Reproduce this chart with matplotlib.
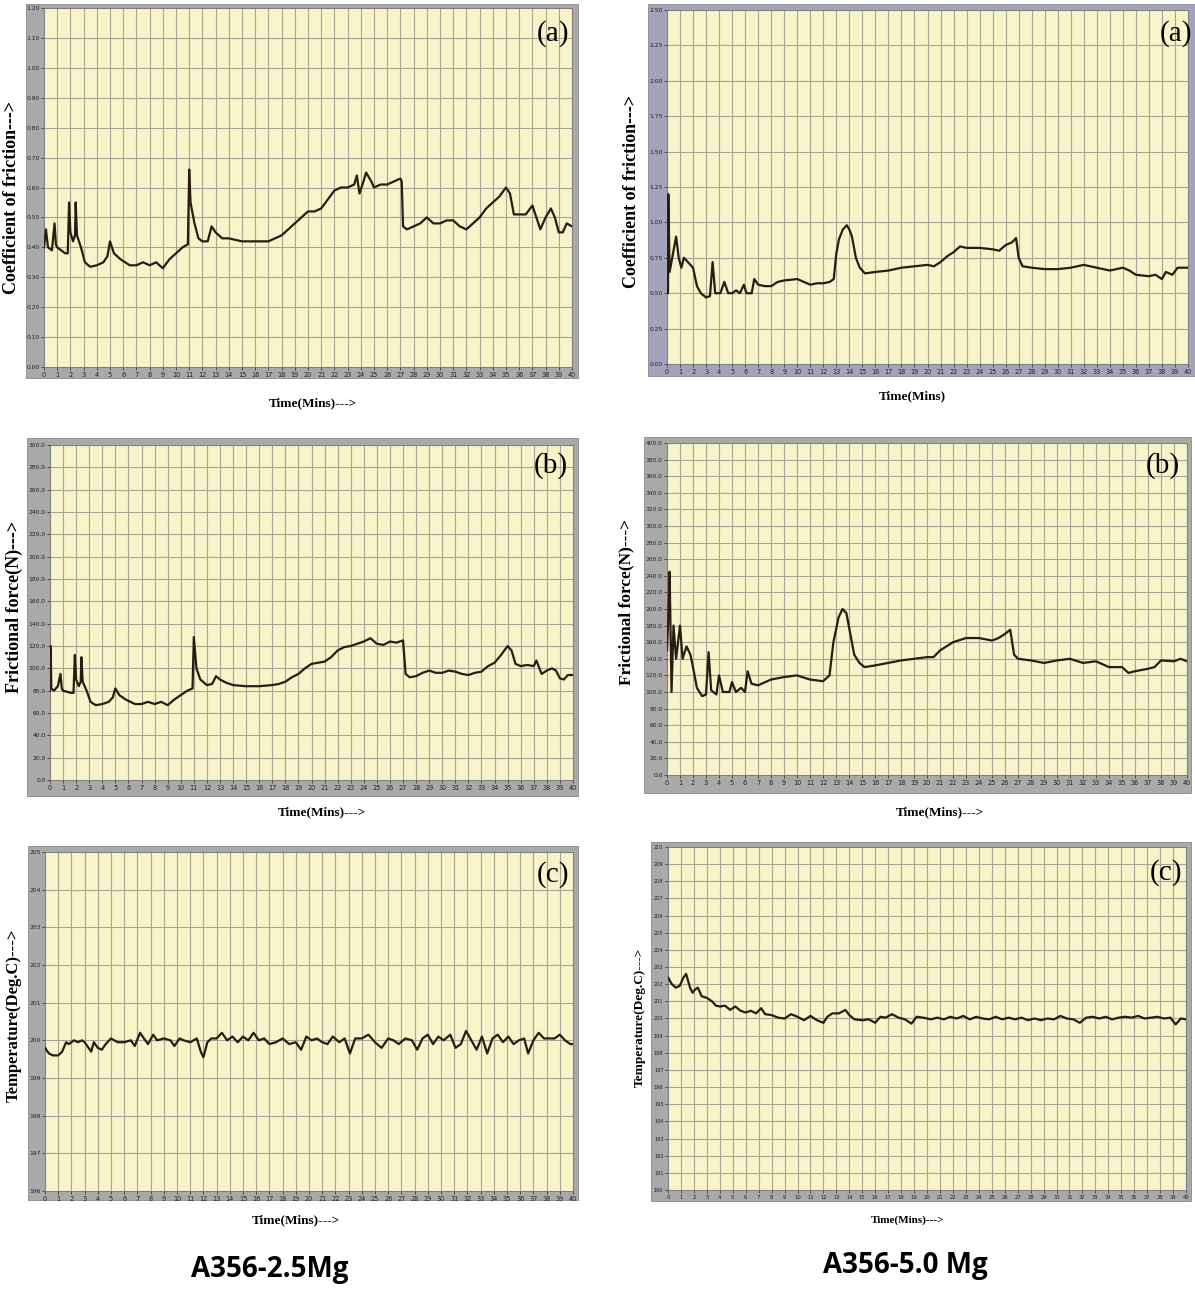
import matplotlib
matplotlib.use("Agg")
import matplotlib.pyplot as plt
from matplotlib.patches import Rectangle
from matplotlib.ticker import MultipleLocator, FormatStrFormatter

# ---------------- data ----------------
# A356-2.5Mg  coefficient of friction
t_cof1 = [0, 0.15, 0.3, 0.6, 0.8, 0.9, 1.0, 1.3, 1.6, 1.8, 1.9, 2.0, 2.2, 2.35, 2.4, 2.5, 2.8, 3.1, 3.5,
          4.0, 4.5, 4.8, 5.0, 5.3, 5.8, 6.5, 7.0, 7.5, 8.0, 8.5, 9.0, 9.5, 10.0, 10.5, 10.9, 11.0, 11.1,
          11.4, 11.7, 12.0, 12.4, 12.7, 13.0, 13.5, 14, 15, 16, 17, 17.5, 18, 18.5, 19, 19.5, 20, 20.5,
          21, 21.5, 22, 22.5, 23, 23.5, 23.7, 23.9, 24.2, 24.4, 24.8, 25, 25.5, 26, 26.5, 27, 27.1, 27.2,
          27.5, 28, 28.5, 29, 29.5, 30, 30.5, 31, 31.5, 32, 32.5, 33, 33.5, 34, 34.5, 35, 35.3, 35.6,
          36, 36.5, 37, 37.3, 37.6, 38, 38.4, 38.7, 39.0, 39.3, 39.6, 40]
cof1 = [0.40, 0.46, 0.40, 0.39, 0.48, 0.41, 0.40, 0.39, 0.38, 0.38, 0.55, 0.45, 0.42, 0.44, 0.55, 0.44,
        0.40, 0.35, 0.335, 0.34, 0.35, 0.37, 0.42, 0.38, 0.36, 0.34, 0.34, 0.35, 0.34, 0.35, 0.33, 0.36,
        0.38, 0.40, 0.41, 0.66, 0.55, 0.48, 0.43, 0.42, 0.42, 0.47, 0.45, 0.43, 0.43, 0.42, 0.42, 0.42,
        0.43, 0.44, 0.46, 0.48, 0.50, 0.52, 0.52, 0.53, 0.56, 0.59, 0.60, 0.60, 0.61, 0.64, 0.58, 0.62,
        0.65, 0.62, 0.60, 0.61, 0.61, 0.62, 0.63, 0.62, 0.47, 0.46, 0.47, 0.48, 0.50, 0.48, 0.48, 0.49,
        0.49, 0.47, 0.46, 0.48, 0.50, 0.53, 0.55, 0.57, 0.60, 0.58, 0.51, 0.51, 0.51, 0.54, 0.50, 0.46,
        0.50, 0.53, 0.50, 0.45, 0.45, 0.48, 0.47]

# A356-5.0Mg  coefficient of friction
t_cof2 = [0, 0.08, 0.1, 0.2, 0.5, 0.7, 0.9, 1.1, 1.3, 1.6, 2.0, 2.3, 2.6, 3.0, 3.3, 3.5, 3.7, 4.1, 4.4,
          4.7, 5.0, 5.3, 5.6, 5.9, 6.1, 6.5, 6.7, 7.0, 7.5, 8.0, 8.5, 9, 10, 10.5, 11, 11.5, 12, 12.5,
          12.8, 13.0, 13.2, 13.5, 13.8, 14.0, 14.2, 14.5, 14.8, 15.2, 16, 17, 18, 19, 20, 20.5, 21, 21.5,
          22, 22.5, 23, 24, 25, 25.5, 26, 26.5, 26.8, 27, 27.3, 28, 29, 30, 31, 32, 33, 34, 35, 35.5, 36,
          37, 37.5, 38, 38.3, 38.8, 39.2, 40]
cof2 = [0.50, 0.50, 1.20, 0.65, 0.80, 0.90, 0.75, 0.68, 0.75, 0.72, 0.68, 0.55, 0.50, 0.47, 0.48, 0.72,
        0.50, 0.50, 0.58, 0.50, 0.50, 0.52, 0.50, 0.56, 0.50, 0.50, 0.60, 0.56, 0.55, 0.55, 0.58, 0.59,
        0.60, 0.58, 0.56, 0.57, 0.57, 0.58, 0.60, 0.78, 0.88, 0.95, 0.98, 0.95, 0.90, 0.75, 0.68, 0.64,
        0.65, 0.66, 0.68, 0.69, 0.70, 0.69, 0.72, 0.76, 0.79, 0.83, 0.82, 0.82, 0.81, 0.80, 0.84, 0.86,
        0.89, 0.75, 0.69, 0.68, 0.67, 0.67, 0.68, 0.70, 0.68, 0.66, 0.68, 0.66, 0.63, 0.62, 0.63, 0.60,
        0.65, 0.63, 0.68, 0.68]

# A356-2.5Mg  frictional force (N)
t_ff1 = [0, 0.05, 0.1, 0.3, 0.6, 0.8, 0.9, 1.0, 1.3, 1.6, 1.8, 1.9, 2.0, 2.2, 2.35, 2.4, 2.5, 2.8, 3.1,
         3.5, 4.0, 4.5, 4.8, 5.0, 5.3, 5.8, 6.5, 7.0, 7.5, 8.0, 8.5, 9.0, 9.5, 10.0, 10.5, 10.9, 11.0,
         11.2, 11.5, 12.0, 12.4, 12.7, 13.0, 13.5, 14, 15, 16, 17, 17.5, 18, 18.5, 19, 19.5, 20, 20.5,
         21, 21.5, 22, 22.5, 23, 23.5, 24, 24.5, 25, 25.5, 26, 26.5, 27, 27.2, 27.5, 28, 28.5, 29, 29.5,
         30, 30.5, 31, 31.5, 32, 32.5, 33, 33.5, 34, 34.5, 35, 35.3, 35.6, 36, 36.5, 37, 37.2, 37.6, 38,
         38.4, 38.7, 39.0, 39.3, 39.6, 40]
ff1 = [80, 120, 82, 80, 84, 95, 82, 80, 79, 78, 78, 112, 90, 84, 88, 110, 88, 80, 70, 67, 68, 70, 74,
       82, 76, 72, 68, 68, 70, 68, 70, 67, 72, 76, 80, 82, 128, 100, 90, 85, 86, 93, 90, 87, 85, 84, 84,
       85, 86, 88, 92, 95, 100, 104, 105, 106, 110, 116, 119, 120, 122, 124, 127, 122, 121, 124, 123,
       125, 95, 92, 93, 96, 98, 96, 96, 98, 97, 95, 94, 96, 97, 102, 105, 112, 120, 116, 104, 102, 103,
       102, 107, 95, 98, 100, 98, 91, 90, 94, 94]

# A356-5.0Mg  frictional force (N)
t_ff2 = [0, 0.1, 0.2, 0.35, 0.5, 0.7, 1.0, 1.2, 1.5, 1.8, 2.0, 2.3, 2.7, 3.0, 3.2, 3.4, 3.8, 4.0, 4.3,
         4.8, 5.0, 5.3, 5.7, 6.0, 6.2, 6.5, 7, 8, 9, 10, 11, 12, 12.5, 12.8, 13.2, 13.5, 13.8, 14.1, 14.4,
         14.8, 15.2, 16, 17, 18, 19, 20, 20.5, 21, 22, 23, 24, 25, 25.5, 26, 26.4, 26.7, 27, 28, 29, 30,
         31, 32, 33, 34, 35, 35.5, 36, 37, 37.5, 38, 39, 39.5, 40]
ff2 = [150, 190, 245, 100, 180, 140, 180, 140, 155, 145, 130, 105, 95, 97, 148, 102, 97, 120, 100, 100,
       112, 100, 105, 100, 125, 110, 108, 115, 118, 120, 115, 113, 120, 160, 190, 200, 195, 170, 145,
       135, 130, 132, 135, 138, 140, 142, 142, 150, 160, 165, 165, 162, 165, 170, 175, 145, 140, 138,
       135, 138, 140, 135, 137, 130, 130, 123, 125, 128, 130, 138, 137, 140, 137]

# A356-2.5Mg  temperature (Deg.C)
t_tp1 = [0, 0.3, 0.6, 1.0, 1.3, 1.6, 1.8, 2.2, 2.5, 2.8, 3.0, 3.3, 3.5, 3.7, 4.0, 4.3, 4.6, 5.0, 5.5,
         6.0, 6.5, 6.8, 7.2, 7.5, 7.8, 8.2, 8.5, 9, 9.5, 9.8, 10.2, 10.5, 11, 11.5, 11.8, 12.0, 12.3,
         12.6, 13, 13.4, 13.8, 14.2, 14.6, 15, 15.4, 15.8, 16.2, 16.6, 17, 17.5, 18, 18.5, 19, 19.4,
         19.8, 20.2, 20.6, 21, 21.4, 21.8, 22.3, 22.7, 23.1, 23.5, 24, 24.5, 25, 25.5, 26, 26.4, 26.8,
         27.3, 27.8, 28.2, 28.6, 29, 29.4, 29.8, 30.2, 30.7, 31.1, 31.5, 31.9, 32.3, 32.7, 33.1, 33.5,
         33.9, 34.3, 34.7, 35.1, 35.5, 35.9, 36.3, 36.6, 37.0, 37.4, 37.8, 38.2, 38.6, 39.0, 39.4, 39.8,
         40]
tp1 = [199.8, 199.65, 199.6, 199.6, 199.7, 199.95, 199.9, 200.0, 199.95, 200.0, 199.95, 199.8, 199.7,
       199.95, 199.8, 199.75, 199.9, 200.05, 199.95, 199.95, 200.0, 199.85, 200.2, 200.05, 199.9,
       200.15, 200.0, 200.05, 200.0, 199.85, 200.05, 200.0, 199.95, 200.05, 199.7, 199.55, 199.95,
       200.05, 200.05, 200.2, 200.0, 200.1, 199.95, 200.1, 200.0, 200.2, 200.0, 200.05, 199.9, 199.95,
       200.05, 199.9, 199.95, 199.75, 200.1, 200.0, 200.05, 199.95, 199.9, 200.1, 199.95, 200.05,
       199.65, 200.05, 200.05, 200.15, 199.95, 199.8, 200.05, 200.0, 199.9, 200.05, 200.0, 199.75,
       200.05, 200.15, 199.9, 200.1, 200.0, 200.15, 199.8, 199.9, 200.25, 200.0, 199.75, 200.1, 199.65,
       200.05, 200.15, 199.95, 200.1, 199.9, 200.0, 200.05, 199.65, 200.0, 200.2, 200.05, 200.05,
       200.05, 200.15, 200.0, 199.9, 199.9]

# A356-5.0Mg  temperature (Deg.C)
t_tp2 = [0, 0.3, 0.6, 0.9, 1.2, 1.4, 1.7, 1.9, 2.1, 2.3, 2.6, 3.0, 3.4, 3.7, 4.0, 4.4, 4.8, 5.2, 5.6,
         6.0, 6.4, 6.8, 7.2, 7.5, 8, 8.5, 9, 9.5, 10, 10.5, 11, 11.5, 12, 12.3, 12.7, 13.2, 13.7, 14.0,
         14.4, 15, 15.5, 16.0, 16.4, 16.8, 17.3, 17.8, 18.3, 18.8, 19.2, 19.7, 20.3, 20.8, 21.3, 21.8,
         22.3, 22.8, 23.3, 23.8, 24.3, 24.8, 25.3, 25.8, 26.3, 26.8, 27.3, 27.8, 28.3, 28.8, 29.3, 29.8,
         30.3, 30.8, 31.3, 31.8, 32.3, 32.8, 33.3, 33.8, 34.3, 34.8, 35.3, 35.8, 36.3, 36.8, 37.3, 37.8,
         38.3, 38.8, 39.2, 39.6, 40]
tp2 = [202.4, 202.0, 201.8, 201.9, 202.4, 202.6, 201.8, 201.5, 201.7, 201.8, 201.3, 201.2, 201.0,
       200.75, 200.7, 200.75, 200.5, 200.7, 200.45, 200.35, 200.45, 200.3, 200.6, 200.25, 200.2, 200.05,
       200.0, 200.25, 200.1, 199.9, 200.15, 199.9, 199.75, 200.1, 200.3, 200.3, 200.5, 200.2, 199.95,
       199.9, 199.95, 199.75, 200.1, 200.05, 200.25, 200.05, 199.95, 199.7, 200.1, 200.05, 199.95,
       200.05, 199.95, 200.1, 200.0, 200.15, 199.95, 200.1, 200.0, 199.95, 200.1, 199.95, 200.05,
       199.95, 200.05, 199.9, 200.0, 199.9, 200.0, 199.95, 200.15, 200.0, 199.95, 199.75, 200.05, 200.1,
       200.0, 200.1, 199.95, 200.05, 200.1, 200.05, 200.15, 200.0, 200.05, 200.1, 200.0, 200.05, 199.65,
       200.0, 199.95]

x_ticks = list(range(0, 41))

# ---------------- figure ----------------
W, H = 1195, 1289
fig = plt.figure(figsize=(W / 100, H / 100), dpi=100)
fig.patch.set_facecolor("white")

SERIF = ["Liberation Serif", "DejaVu Serif"]
LINE_C = "#2a1c12"
FACE_C = "#f6f4c8"
GRID_C = "#a5a592"


def frame(x0, y0, x1, y1, color):
    fig.patches.append(Rectangle((x0 / W, 1 - y1 / H), (x1 - x0) / W, (y1 - y0) / H,
                                 transform=fig.transFigure, facecolor=color,
                                 edgecolor="#8a8a8a", linewidth=0.6, zorder=-5))


def panel(axpx, framepx, fcol, t, v, ylim, ystep, yfmt, letter, letterpx, ylab, ylabpx,
          xlab, xlabpx, ylab_fs=13, xlab_fs=9.5, ytick_fs=4.3, xtick_fs=4.7):
    frame(*framepx, fcol)
    x0, y0, x1, y1 = axpx
    ax = fig.add_axes([x0 / W, 1 - y1 / H, (x1 - x0) / W, (y1 - y0) / H])
    ax.set_zorder(2)
    ax.set_facecolor(FACE_C)
    ax.plot(t, v, color=LINE_C, lw=1.6, zorder=3)
    ax.set_xlim(0, 40)
    ax.set_ylim(*ylim)
    ax.set_xticks(x_ticks)
    ax.yaxis.set_major_locator(MultipleLocator(ystep))
    ax.yaxis.set_major_formatter(FormatStrFormatter(yfmt))
    ax.grid(True, color=GRID_C, lw=0.8, zorder=1)
    ax.set_axisbelow(True)
    ax.tick_params(axis="x", labelsize=xtick_fs, length=2, width=0.5, pad=1.5,
                   colors="#222222")
    ax.tick_params(axis="y", labelsize=ytick_fs, length=2, width=0.5, pad=1.2,
                   colors="#222222")
    for s in ax.spines.values():
        s.set_color("#777777")
        s.set_linewidth(0.6)
    fig.text(letterpx[0] / W, 1 - letterpx[1] / H, letter, family=SERIF, fontsize=21,
             ha="center", va="center", zorder=5)
    fig.text(ylabpx[0] / W, 1 - ylabpx[1] / H, ylab, family=SERIF, fontweight="bold",
             fontsize=ylab_fs, rotation=90, ha="center", va="center")
    fig.text(xlabpx[0] / W, 1 - xlabpx[1] / H, xlab, family=SERIF, fontweight="bold",
             fontsize=xlab_fs, ha="center", va="center")
    return ax


GRAY = "#a9a9a9"
BLUEGRAY = "#a3a3ba"

# top-left (a)
panel((44, 8, 572, 367), (26, 4, 578, 378), GRAY, t_cof1, cof1, (0, 1.2), 0.1, "%.2f",
      "(a)", (553, 34), "Coefficient of friction--->", (12, 198),
      "Time(Mins)--->", (313, 403))
# top-right (a)
panel((667, 10, 1188, 364), (648, 4, 1195, 376), BLUEGRAY, t_cof2, cof2, (0, 2.5), 0.25, "%.2f",
      "(a)", (1176, 34), "Coefficient of friction--->", (632, 192),
      "Time(Mins)", (912, 396))
# middle-left (b)
panel((50, 445, 573, 780), (27, 438, 578, 796), GRAY, t_ff1, ff1, (0, 300), 20, "%.1f",
      "(b)", (551, 466), "Frictional force(N)--->", (14, 607),
      "Time(Mins)--->", (322, 812))
# middle-right (b)
panel((667, 443, 1187, 775), (644, 437, 1191, 793), GRAY, t_ff2, ff2, (0, 400), 20, "%.1f",
      "(b)", (1163, 466), "Frictional force(N)--->", (626, 602),
      "Time(Mins)--->", (940, 812), ylab_fs=12.5)
# bottom-left (c)
panel((45, 852, 573, 1191), (28, 846, 578, 1200), GRAY, t_tp1, tp1, (196, 205), 1, "%d",
      "(c)", (553, 875), "Temperature(Deg.C)--->", (14, 1015),
      "Time(Mins)--->", (296, 1220), ylab_fs=12)
# bottom-right (c)
panel((668, 847, 1186, 1190), (651, 842, 1191, 1201), GRAY, t_tp2, tp2, (190, 210), 1, "%d",
      "(c)", (1166, 873), "Temperature(Deg.C)--->", (640, 1017),
      "Time(Mins)--->", (908, 1220), ylab_fs=9.5, xlab_fs=8, ytick_fs=3.6, xtick_fs=3.8)

# sample titles
fig.text(270 / W, 1 - 1270 / H, "A356-2.5Mg", family=["Open Sans", "DejaVu Sans"],
         fontweight="bold", fontsize=20, ha="center", va="center")
fig.text(905 / W, 1 - 1266 / H, "A356-5.0 Mg", family=["Open Sans", "DejaVu Sans"],
         fontweight="bold", fontsize=20, ha="center", va="center")

fig.savefig("out.png", dpi=100)
